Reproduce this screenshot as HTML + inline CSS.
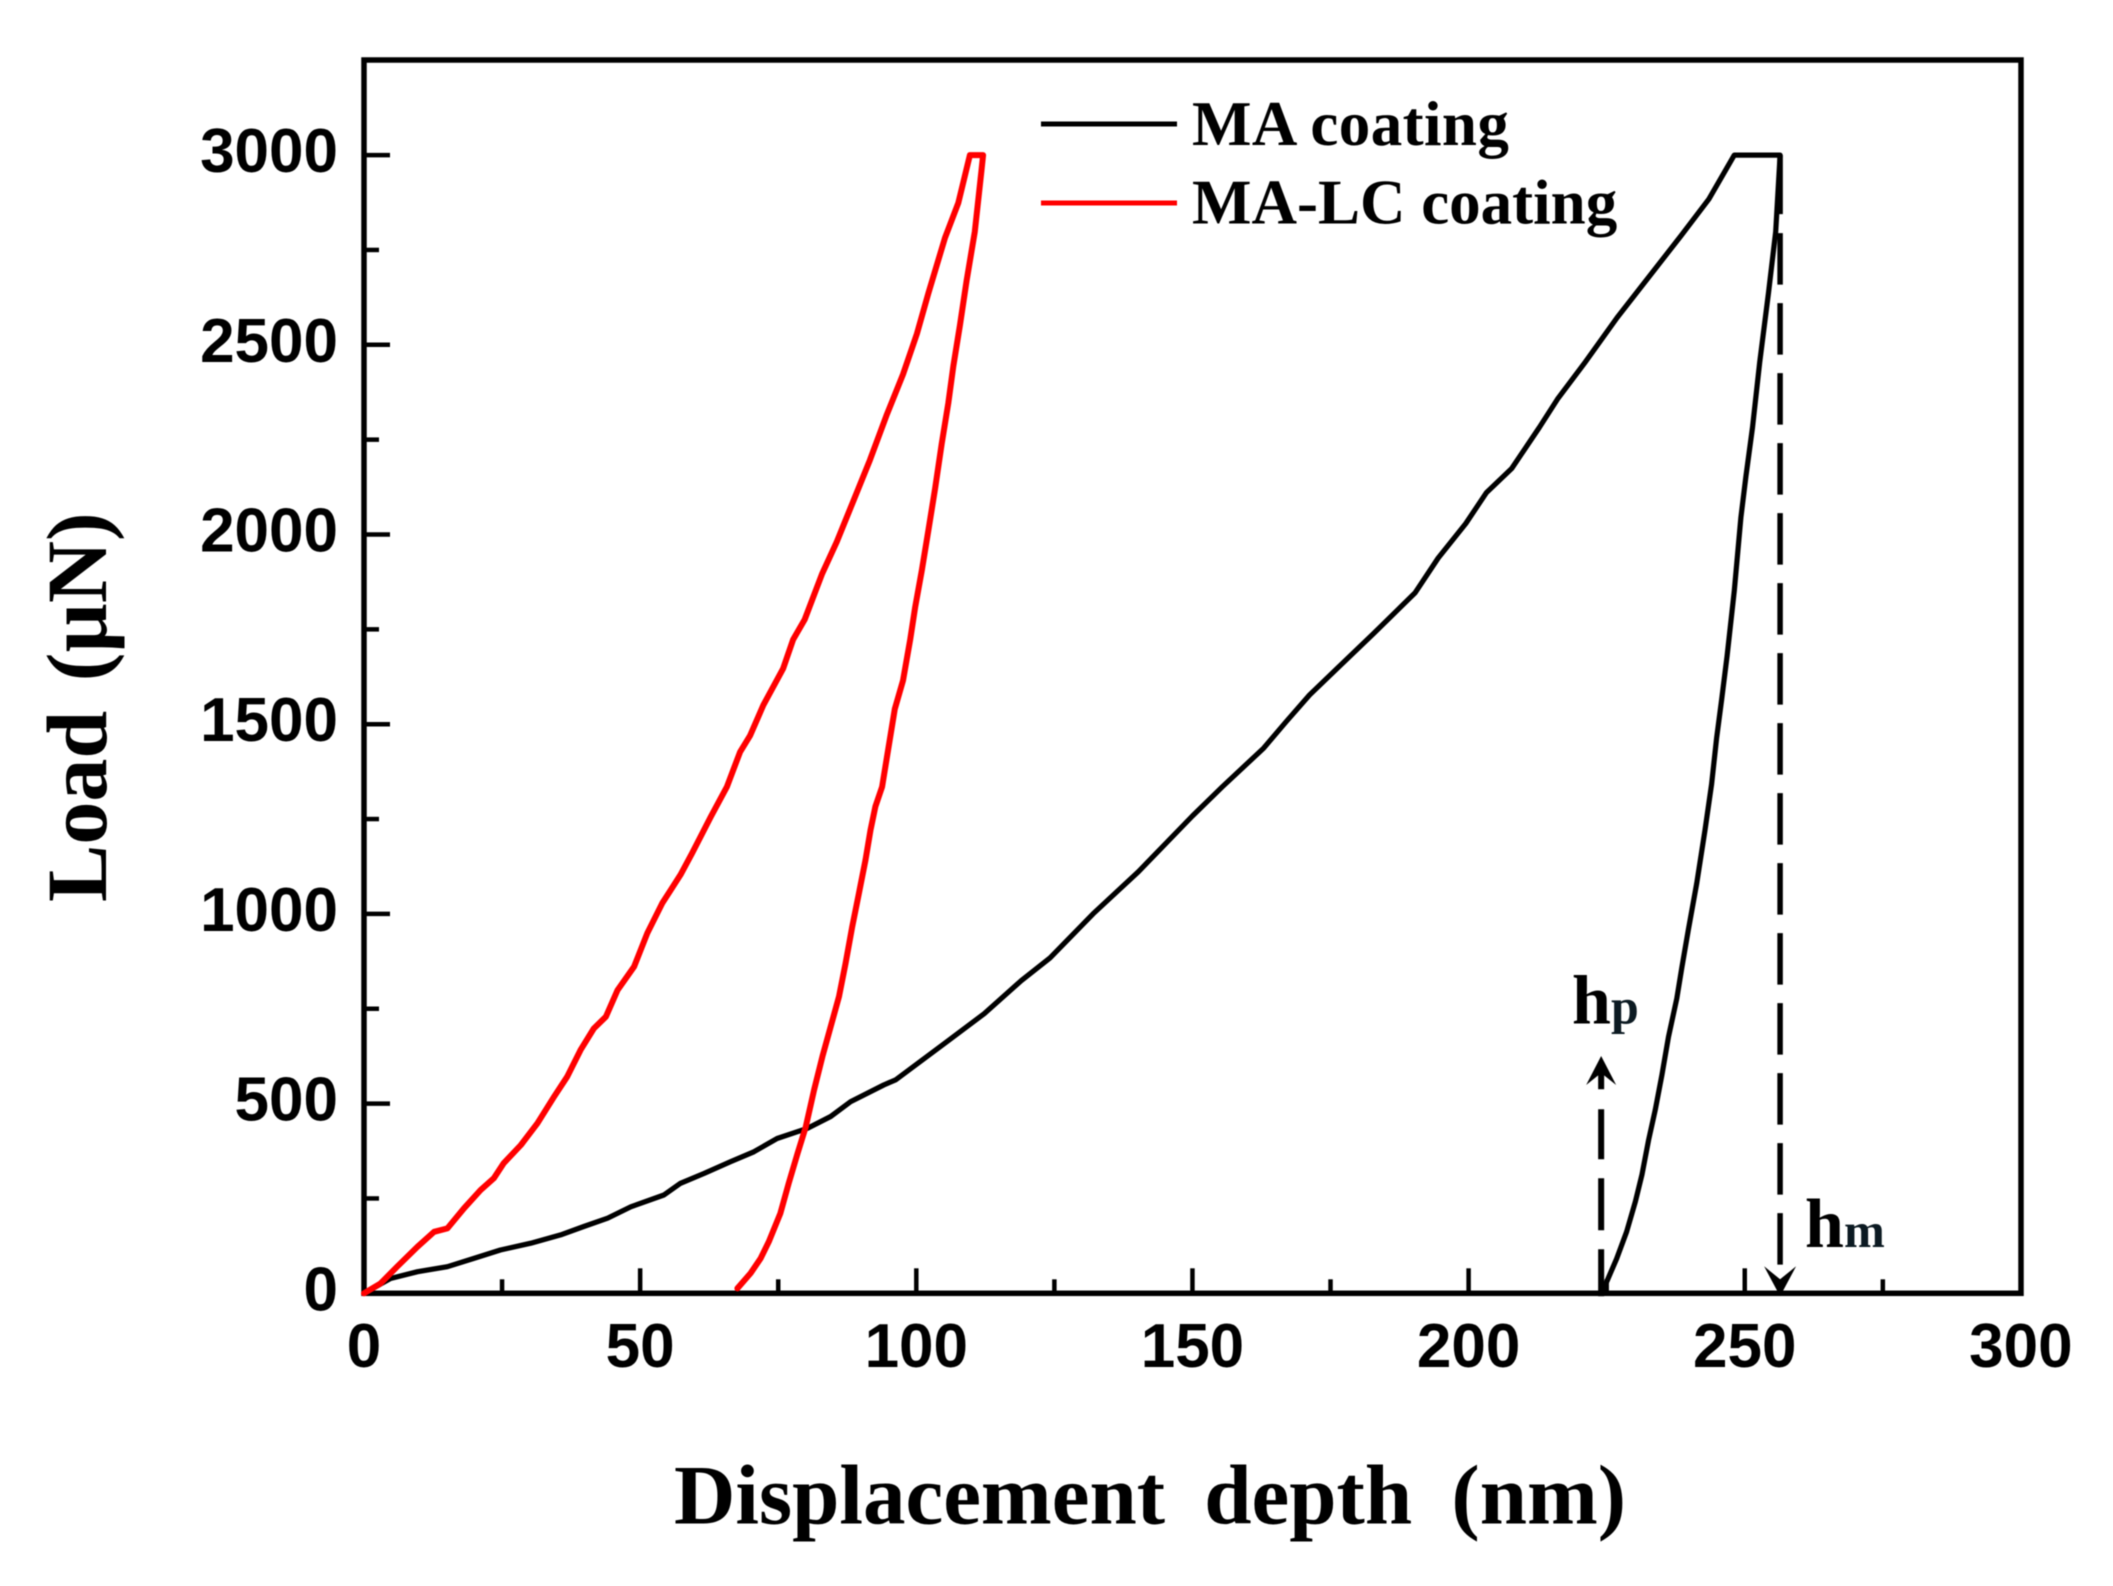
<!DOCTYPE html>
<html lang="en">
<head>
<meta charset="utf-8">
<title>Load vs displacement depth</title>
<style>
html,body{margin:0;padding:0;background:#fff;width:2113px;height:1586px;overflow:hidden}
svg{display:block;filter:blur(0.6px)}
.tick-label{font-family:"Liberation Sans",Arial,sans-serif;font-weight:700;font-size:62px;fill:#000}
.serif{font-family:"Liberation Serif","Times New Roman",serif;font-weight:700;fill:#000}
</style>
</head>
<body>
<svg id="chart" xmlns="http://www.w3.org/2000/svg" width="2113" height="1586" viewBox="0 0 2113 1586">
  <rect x="0" y="0" width="2113" height="1586" fill="#ffffff"/>
  <rect x="364" y="60" width="1657" height="1233.3" fill="#ffffff" stroke="#000" stroke-width="5.5"/>
  <g id="ticks"></g>
  <g id="series"></g>
  <g id="annotations"></g>

  <g>
    <line x1="1041" y1="124" x2="1177" y2="124" stroke="#000" stroke-width="5"/>
    <text class="serif" x="1192" y="145" font-size="63" letter-spacing="0.4">MA coating</text>
    <line x1="1041" y1="203" x2="1177" y2="203" stroke="#ff0000" stroke-width="5"/>
    <text class="serif" x="1192" y="223.5" font-size="63">MA-LC coating</text>
  </g>

  <text class="serif" x="674" y="1523.5" font-size="85" word-spacing="18">Displacement depth (nm)</text>
  <text class="serif" transform="translate(106 902) rotate(-90)" x="0" y="0" font-size="86" word-spacing="8">Load (µN)</text>

  <text class="serif" x="1572" y="1023.5" font-size="70">h<tspan font-size="50" fill="#0c1a22">p</tspan></text>
  <text class="serif" x="1805" y="1247" font-size="70">h<tspan font-size="49" fill="#0c1a22">m</tspan></text>
</svg>
<script>
const xTicks = [0, 50, 100, 150, 200, 250, 300];
const xMinorTicks = [25, 75, 125, 175, 225, 275];
const yTicks = [0, 500, 1000, 1500, 2000, 2500, 3000];
const yMinorTicks = [250, 750, 1250, 1750, 2250, 2750];

const redDepth = [0, 3, 6, 9.7, 12.7, 15.1, 18.1, 21.1, 23.5, 25.3, 28.4, 31.4, 34.4, 36.8, 39.2, 41.6, 43.8, 45.9, 48.9, 51.3, 54, 57.3, 59.4, 62.8, 65.7, 68.1, 69.9, 72.3, 75.9, 77.7, 79.8, 82.9, 85.6, 88.6, 91.6, 94.6, 97.6, 100.1, 102.2, 105.2, 107.6, 109.7, 112.1, 111.8, 110.6, 109.1, 107.9, 106.7, 105.8, 104.6, 103.4, 102.2, 101, 99.8, 98.9, 97.6, 96.1, 94.9, 93.8, 92.6, 91.7, 90.8, 89.6, 88.4, 87.2, 86, 84.5, 83, 81.5, 80, 78.5, 76.9, 75.4, 73.3, 71.8, 70, 67.6];
const redLoad = [0, 26, 70, 123, 162, 171, 224, 272, 303, 343, 391, 448, 518, 571, 641, 698, 729, 799, 861, 949, 1028, 1103, 1160, 1256, 1335, 1427, 1470, 1550, 1647, 1723, 1776, 1895, 1981, 2088, 2196, 2314, 2422, 2529, 2637, 2782, 2874, 3000, 3000, 2960, 2798, 2669, 2551, 2443, 2346, 2239, 2121, 2013, 1905, 1809, 1723, 1615, 1540, 1432, 1335, 1283, 1221, 1142, 1054, 966, 870, 782, 703, 624, 536, 439, 369, 290, 211, 136, 92, 53, 13];

const blackDepth = [0, 4.8, 9.7, 15.1, 19.9, 24.7, 30.2, 35.6, 39.8, 44.1, 48.3, 54.3, 57.3, 61.6, 66.4, 70.6, 74.8, 80.3, 84.5, 88.1, 94.1, 96.3, 105.5, 112.3, 119, 124.2, 132, 140.2, 150, 155.4, 162.9, 167, 171.2, 176.2, 182.8, 190.3, 194.5, 199.5, 203.2, 207.8, 212.8, 216.1, 221.1, 226.9, 232.7, 238.5, 243.5, 248.1, 256.4, 255.6, 254.3, 252.7, 251.4, 250.2, 249.3, 248.1, 246.8, 245.8, 244.9, 244, 242.8, 241.3, 239.8, 238.6, 237.7, 236.2, 235, 233.8, 232.6, 231.4, 230.2, 228.6, 226.8, 224.7, 224];
const blackLoad = [0, 39, 57, 70, 92, 114, 132, 154, 176, 198, 228, 259, 290, 316, 347, 373, 408, 435, 466, 505, 549, 563, 663, 737, 824, 884, 1000, 1111, 1258, 1335, 1437, 1507, 1577, 1647, 1739, 1846, 1938, 2029, 2110, 2174, 2282, 2357, 2454, 2572, 2680, 2788, 2884, 3000, 3000, 2798, 2637, 2454, 2282, 2153, 2045, 1852, 1680, 1564, 1463, 1342, 1221, 1080, 959, 858, 777, 676, 575, 484, 404, 313, 242, 162, 91, 20, 0];

const hpDepth = 224;
const hmDepth = 256.4;
const peakLoad = 3000;

const NS = 'http://www.w3.org/2000/svg';
const LEFT = 364, BOTTOM = 1293.3, PX_PER_NM = 5.523, PX_PER_UN = 0.3794;
function sx(v) { return LEFT + v * PX_PER_NM; }
function sy(v) { return BOTTOM - v * PX_PER_UN; }
function make(tag, attrs, parent) {
  const el = document.createElementNS(NS, tag);
  for (const k in attrs) el.setAttribute(k, attrs[k]);
  parent.appendChild(el);
  return el;
}

const ticksG = document.getElementById('ticks');
xTicks.forEach(function (v) {
  if (v !== 300 && v !== 0) {
    const t = make('line', {x1: sx(v), x2: sx(v), y1: BOTTOM, y2: BOTTOM - 25, stroke: '#000', 'stroke-width': 4.5}, ticksG);
    
    
  }
  const l = make('text', {x: sx(v), y: 1367, 'text-anchor': 'middle', class: 'tick-label'}, ticksG);
  l.textContent = String(v);
  
  
});
xMinorTicks.forEach(function (v) {
  const t = make('line', {x1: sx(v), x2: sx(v), y1: BOTTOM, y2: BOTTOM - 14, stroke: '#000', 'stroke-width': 4.5}, ticksG);
  
  
});
yTicks.forEach(function (v) {
  if (v !== 0) {
    const t = make('line', {x1: LEFT, x2: LEFT + 26, y1: sy(v), y2: sy(v), stroke: '#000', 'stroke-width': 4.5}, ticksG);
    
    
  }
  const l = make('text', {x: 338, y: sy(v) + 17, 'text-anchor': 'end', class: 'tick-label'}, ticksG);
  l.textContent = String(v);
  
  
});
yMinorTicks.forEach(function (v) {
  const t = make('line', {x1: LEFT, x2: LEFT + 15, y1: sy(v), y2: sy(v), stroke: '#000', 'stroke-width': 4.5}, ticksG);
  
  
});

function pathFrom(xs, ys) {
  return xs.map(function (x, i) { return (i ? 'L' : 'M') + sx(x).toFixed(1) + ' ' + sy(ys[i]).toFixed(1); }).join(' ');
}
const seriesG = document.getElementById('series');
const blackLine = make('path', {d: pathFrom(blackDepth, blackLoad), fill: 'none', stroke: '#000', 'stroke-width': 5.2, 'stroke-linejoin': 'round', 'stroke-linecap': 'round'}, seriesG);


const redLine = make('path', {d: pathFrom(redDepth, redLoad), fill: 'none', stroke: '#ff0000', 'stroke-width': 6, 'stroke-linejoin': 'round', 'stroke-linecap': 'round'}, seriesG);



const annG = document.getElementById('annotations');
const hmX = sx(hmDepth), hpX = sx(hpDepth), topY = sy(peakLoad);
const hmSolid = make('line', {x1: hmX, x2: hmX, y1: topY, y2: topY + 59, stroke: '#000', 'stroke-width': 5.5}, annG);


const hmDash = make('line', {x1: hmX, x2: hmX, y1: topY + 78, y2: BOTTOM - 6, stroke: '#000', 'stroke-width': 5.5, 'stroke-dasharray': '51.5 18.5'}, annG);


const hmHead = make('polygon', {points: (hmX - 16) + ',' + (BOTTOM - 27) + ' ' + hmX + ',' + (BOTTOM - 14) + ' ' + (hmX + 16) + ',' + (BOTTOM - 27) + ' ' + hmX + ',' + (BOTTOM + 3), fill: '#000'}, annG);



const hpDash = make('line', {x1: hpX, x2: hpX, y1: BOTTOM + 3, y2: 1070, stroke: '#000', 'stroke-width': 6, 'stroke-dasharray': '47 19 52 19 50 20 30'}, annG);


const hpHead = make('polygon', {points: hpX + ',1056 ' + (hpX + 15) + ',1085 ' + hpX + ',1073 ' + (hpX - 15) + ',1085', fill: '#000'}, annG);


</script>
</body>
</html>
